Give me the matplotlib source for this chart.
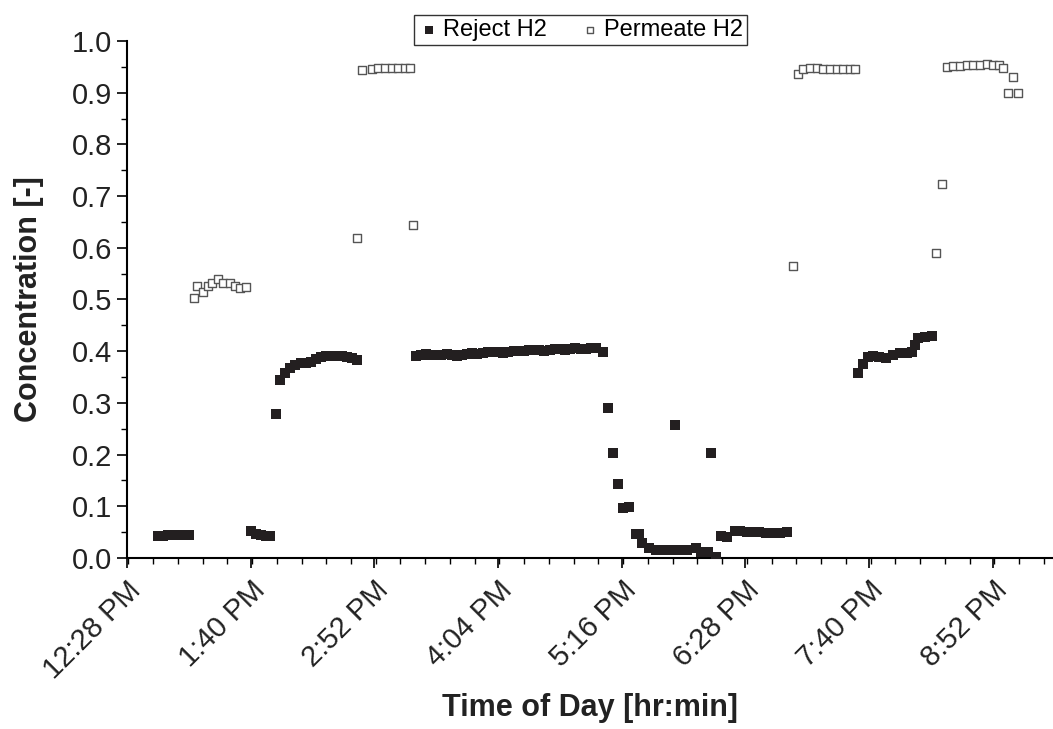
import matplotlib.pyplot as plt
from matplotlib.ticker import FixedLocator, MultipleLocator

plt.rcParams['font.family'] = ['Liberation Sans', 'DejaVu Sans']

# time in minutes after midnight
reject_time = [766, 769, 772, 775, 778, 781, 784,
               820, 823, 826, 829, 831,
               835, 837, 840, 843, 846, 849, 852, 855, 858, 861, 864, 867, 870, 873, 876, 879, 882,
               916, 919, 922, 925, 928, 931, 934, 937, 940, 943, 946, 949, 952, 955, 958, 961, 964,
               967, 970, 973, 976, 979, 982, 985, 988, 991, 994, 997, 1000, 1003, 1006, 1009, 1012,
               1015, 1018, 1021, 1025,
               1028, 1031, 1034, 1037, 1040, 1044, 1046, 1048, 1052, 1056, 1060, 1064, 1067, 1070,
               1074, 1079, 1082, 1086, 1088, 1091, 1094, 1097, 1102, 1105, 1109, 1112, 1116, 1120,
               1124, 1128, 1132,
               1173.5, 1176.5, 1179.5, 1182, 1186, 1190, 1194, 1198, 1202, 1205, 1206.5, 1208.5,
               1212.5, 1216.5]
reject_h2 = [0.042, 0.043, 0.044, 0.044, 0.045, 0.045, 0.045,
             0.052, 0.046, 0.044, 0.042, 0.042,
             0.278, 0.345, 0.358, 0.368, 0.373, 0.377, 0.378, 0.380, 0.385, 0.388, 0.390, 0.391,
             0.391, 0.390, 0.389, 0.387, 0.383,
             0.390, 0.393, 0.394, 0.393, 0.392, 0.393, 0.394, 0.392, 0.390, 0.392, 0.395, 0.396,
             0.394, 0.396, 0.398, 0.399, 0.398, 0.397, 0.399, 0.401, 0.401, 0.400, 0.402, 0.403,
             0.402, 0.401, 0.403, 0.405, 0.404, 0.403, 0.404, 0.406, 0.405, 0.404, 0.406, 0.407,
             0.399,
             0.290, 0.203, 0.143, 0.097, 0.099, 0.046, 0.046, 0.029, 0.019, 0.016, 0.016, 0.016,
             0.257, 0.016, 0.016, 0.019, 0.012, 0.012, 0.203, 0.002, 0.043, 0.040, 0.052, 0.053,
             0.051, 0.050, 0.050, 0.048, 0.048, 0.048, 0.050,
             0.357, 0.376, 0.388, 0.390, 0.388, 0.386, 0.392, 0.396, 0.396, 0.398, 0.411, 0.425,
             0.427, 0.429]

permeate_time = [787, 789, 792, 795, 797.5, 801, 804, 808, 811, 814, 817,
                 882, 885, 890.5, 894, 898, 902, 906, 910, 912.5, 914.5,
                 1135.5, 1138.5, 1141.5, 1145.5, 1149.5, 1153, 1157, 1161, 1165, 1169, 1172,
                 1219, 1222.5, 1225.5, 1229, 1233, 1237, 1240.5, 1244.5, 1248.5, 1252, 1255.5,
                 1258, 1261, 1263.5, 1266.5]
permeate_h2 = [0.502, 0.527, 0.514, 0.527, 0.531, 0.539, 0.531, 0.531, 0.527, 0.523, 0.525,
               0.618, 0.943, 0.946, 0.947, 0.948, 0.948, 0.948, 0.948, 0.947, 0.645,
               0.564, 0.936, 0.946, 0.947, 0.947, 0.946, 0.946, 0.946, 0.945, 0.945, 0.945,
               0.589, 0.724, 0.950, 0.951, 0.952, 0.953, 0.954, 0.954, 0.955, 0.954, 0.953,
               0.948, 0.900, 0.930, 0.900]

tick_times = [748, 820, 892, 964, 1036, 1108, 1180, 1252]
tick_labels = ['12:28 PM', '1:40 PM', '2:52 PM', '4:04 PM', '5:16 PM', '6:28 PM', '7:40 PM', '8:52 PM']

fig = plt.figure(figsize=(10.53, 7.29), dpi=100)
ax = fig.add_axes([0.1206, 0.2346, 0.8794, 0.7092])

ax.scatter(reject_time, reject_h2, marker='s', s=58, color='#231f20', linewidths=0,
           label='Reject H2', zorder=3)
ax.scatter(permeate_time, permeate_h2, marker='s', s=36, facecolors='white',
           edgecolors='#555555', linewidths=1.0, label='Permeate H2', zorder=3)

ax.set_xlim(748, 1287)
ax.set_ylim(0, 1.0)
ax.xaxis.set_major_locator(FixedLocator(tick_times))
ax.xaxis.set_minor_locator(MultipleLocator(14.4))
ax.set_xticklabels(tick_labels, rotation=45, ha='right', rotation_mode='anchor')
ax.yaxis.set_major_locator(MultipleLocator(0.1))
ax.yaxis.set_minor_locator(MultipleLocator(0.05))
ax.yaxis.set_major_formatter(plt.FormatStrFormatter('%.1f'))

ax.tick_params(axis='both', which='major', labelsize=21, length=7, width=1.2, direction='out',
               labelcolor='#222222')
ax.tick_params(axis='both', which='minor', length=4, width=1.0, direction='out')
ax.tick_params(axis='x', pad=6)

for side in ['top', 'right']:
    ax.spines[side].set_visible(False)
for side in ['left', 'bottom']:
    ax.spines[side].set_linewidth(1.5)

ax.set_xlabel('Time of Day [hr:min]', fontsize=22, fontweight='bold', color='#222222')
ax.set_ylabel('Concentration [-]', fontsize=22, fontweight='bold', color='#222222')
ax.xaxis.set_label_coords(0.5, -0.262)
ax.yaxis.set_label_coords(-0.09, 0.5)

leg = fig.legend(loc='upper center', bbox_to_anchor=(0.551, 0.995), ncol=2, fontsize=17,
                 frameon=True, fancybox=False, edgecolor='black', handletextpad=0.1,
                 columnspacing=1.3, borderpad=0.15, markerscale=0.75, handlelength=1.0)
leg.get_frame().set_linewidth(1.0)

fig.savefig('out.png', dpi=100)
